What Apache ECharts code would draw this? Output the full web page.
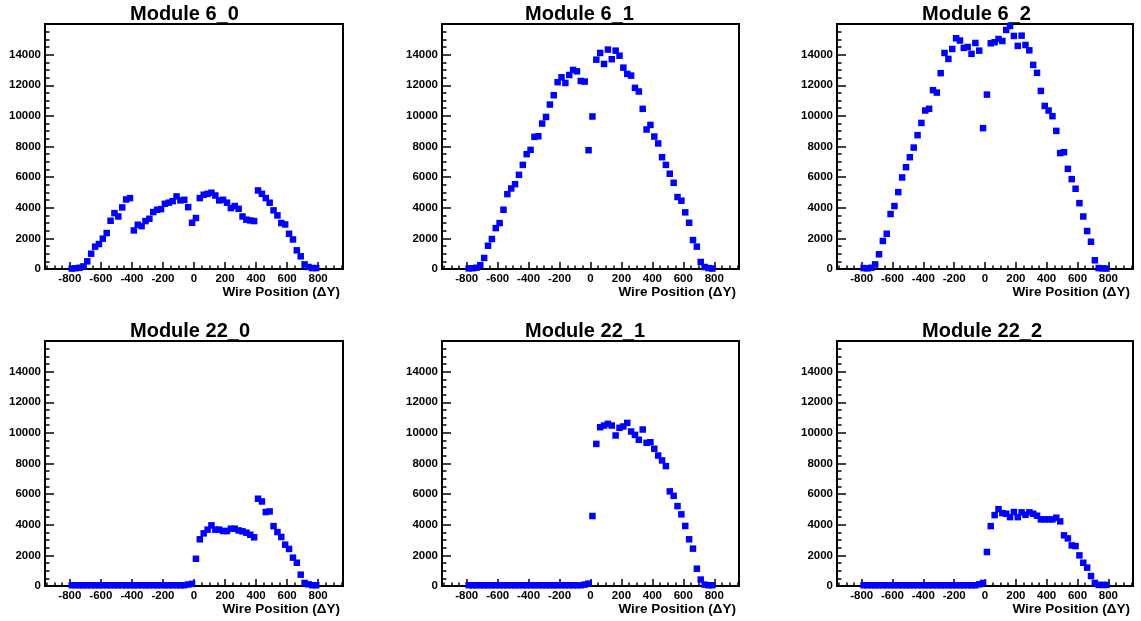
<!DOCTYPE html>
<html><head><meta charset="utf-8">
<script src="https://cdn.jsdelivr.net/npm/echarts@6/dist/echarts.min.js"></script>
<style>html,body{margin:0;padding:0;background:#fff}#c{width:1141px;height:621px}</style>
</head><body><div id="c"></div>
<script>
// Wire position bin centres (ΔY)
const wirePositions = [-787.5,-762.5,-737.5,-712.5,-687.5,-662.5,-637.5,-612.5,-587.5,-562.5,-537.5,-512.5,-487.5,-462.5,-437.5,-412.5,
  -387.5,-362.5,-337.5,-312.5,-287.5,-262.5,-237.5,-212.5,-187.5,-162.5,-137.5,-112.5,-87.5,-62.5,-37.5,-12.5,
  12.5,37.5,62.5,87.5,112.5,137.5,162.5,187.5,212.5,237.5,262.5,287.5,312.5,337.5,362.5,387.5,
  412.5,437.5,462.5,487.5,512.5,537.5,562.5,587.5,612.5,637.5,662.5,687.5,712.5,737.5,762.5,787.5];

const module6_0 = [30,50,80,170,500,1000,1460,1630,1980,2350,3150,3650,3430,4020,4540,4630,
  2520,2890,2800,3130,3280,3720,3870,3910,4260,4330,4430,4740,4480,4520,4040,3020,
  3330,4630,4850,4910,4980,4800,4480,4520,4330,3980,4110,3930,3430,3220,3170,3130,
  5130,4910,4630,4330,3830,3500,3000,2910,2300,1930,1220,830,300,130,60,60];

const module6_1 = [40,50,80,250,720,1520,1960,2670,3000,3870,4890,5260,5540,6150,6800,7500,
  7780,8630,8670,9500,9930,10740,11350,12200,12520,12150,12670,13000,12910,12280,12240,7760,
  9960,13670,14110,13390,14330,13700,14260,13930,13150,12740,12630,11830,11590,10460,9110,9410,
  8650,8200,7300,6800,6220,5630,4700,4460,3700,3020,1890,1460,460,130,60,30];

const module6_2 = [60,40,80,300,960,1830,2300,3590,4110,5020,5980,6650,7300,7930,8740,9540,
  10350,10460,11680,11520,12790,14110,13720,14370,15070,14920,14440,14500,14050,14760,14260,9200,
  11390,14740,14810,15020,14890,15610,15870,15220,14570,15240,14630,14280,13330,12810,11630,10650,
  10350,9980,9020,7570,7630,6540,5870,5240,4300,3430,2480,1780,570,60,40,30];

const module22_0 = [50,50,50,50,50,50,50,50,50,50,50,50,50,50,50,50,
  50,50,50,50,50,50,50,50,50,50,50,50,50,50,100,140,
  1780,3050,3440,3680,3960,3680,3680,3590,3590,3740,3740,3630,3570,3480,3350,3180,
  5700,5520,4830,4870,3910,3520,3200,2700,2420,1850,1520,740,200,110,50,50];

const module22_1 = [50,50,50,50,50,50,50,50,50,50,50,50,50,50,50,50,
  50,50,50,50,50,50,50,50,50,50,50,50,50,50,90,155,
  4570,9280,10370,10480,10590,10480,9830,10330,10420,10650,10090,9870,9550,10220,9350,9390,
  8960,8520,8200,7830,6180,5890,5220,4680,3920,3050,2440,1130,420,90,50,50];

const module22_2 = [50,50,50,50,50,50,50,50,50,50,50,50,50,50,50,50,
  50,50,50,50,50,50,50,50,50,50,50,50,50,50,110,200,
  2220,3910,4630,5020,4760,4720,4500,4830,4500,4810,4650,4810,4720,4590,4350,4350,
  4350,4350,4460,4220,3310,3110,2650,2610,2000,1520,1200,650,200,70,70,70];

const panelTitles = ['Module 6_0','Module 6_1','Module 6_2','Module 22_0','Module 22_1','Module 22_2'];
const panelValues = [module6_0, module6_1, module6_2, module22_0, module22_1, module22_2];
const xTickLabels = [-800,-600,-400,-200,0,200,400,600,800];
const yTickLabels = [0,2000,4000,6000,8000,10000,12000,14000];
const xAxisTitle = 'Wire Position (\u0394Y)';

const FONT = '"Liberation Sans", Arial, Helvetica, sans-serif';
const gridBoxes = [
  {left:45, top:24, width:298, height:245},
  {left:442, top:24, width:297, height:245},
  {left:837, top:24, width:296, height:245},
  {left:45, top:341, width:298, height:245},
  {left:442, top:341, width:297, height:245},
  {left:837, top:341, width:296, height:245}
];
const titlePos = [
  {left:130, top:4},{left:525, top:4},{left:922, top:4},
  {left:130, top:321},{left:525, top:321},{left:922, top:321}
];

const xMinor = [];
for (let k = -19; k <= 19; k++) { const v = k * 50; if (!xTickLabels.includes(v)) xMinor.push(v); }

const grids = [], xAxes = [], yAxes = [], series = [], titles = [];
panelTitles.forEach((t, p) => {
  grids.push(Object.assign({show:true, borderColor:'#000', borderWidth:2, backgroundColor:'#fff', containLabel:false}, gridBoxes[p]));
  titles.push({text:t, left:titlePos[p].left, top:titlePos[p].top, padding:0,
    textStyle:{fontFamily:FONT, fontWeight:'bold', fontSize:20, color:'#000'}});
  xAxes.push({type:'value', gridIndex:p, min:-960, max:960, position:'bottom',
    axisLine:{show:true, onZero:false, lineStyle:{color:'#000', width:2}},
    axisTick:{show:true, inside:true, length:7, customValues:xTickLabels, lineStyle:{color:'#000', width:1.5}},
    axisLabel:{show:true, customValues:xTickLabels, margin:4, fontFamily:FONT, fontWeight:'bold', fontSize:11.5, color:'#000'},
    splitLine:{show:false},
    name:xAxisTitle, nameLocation:'end', nameGap:-3,
    nameTextStyle:{fontFamily:FONT, fontWeight:'bold', fontSize:13.5, color:'#000', align:'right', verticalAlign:'top', padding:[16,0,0,0]}
  });
  xAxes.push({type:'value', gridIndex:p, min:-960, max:960, position:'bottom',
    axisLine:{show:false, onZero:false},
    axisTick:{show:true, inside:true, length:3.5, customValues:xMinor, lineStyle:{color:'#000', width:1.5}},
    axisLabel:{show:false}, splitLine:{show:false}
  });
  yAxes.push({type:'value', gridIndex:p, min:0, max:16000, interval:2000, position:'left',
    axisLine:{show:true, onZero:false, lineStyle:{color:'#000', width:2}},
    axisTick:{show:true, inside:true, length:9, lineStyle:{color:'#000', width:1.5}},
    minorTick:{show:true, splitNumber:4, length:4.5, lineStyle:{color:'#000', width:1.5}},
    axisLabel:{margin:4, fontFamily:FONT, fontWeight:'bold', fontSize:11.5, color:'#000',
      formatter: v => yTickLabels.includes(v) ? String(v) : ''},
    splitLine:{show:false}, minorSplitLine:{show:false}
  });
  series.push({type:'scatter', xAxisIndex:2*p, yAxisIndex:p, symbol:'rect', symbolSize:6.5,
    itemStyle:{color:'#0000ff', opacity:1}, data: wirePositions.map((x, i) => [x, panelValues[p][i]])});
});

const chart = echarts.init(document.getElementById('c'), null, {renderer:'canvas'});
chart.setOption({backgroundColor:'#fff', animation:false, title:titles, grid:grids, xAxis:xAxes, yAxis:yAxes, series:series});
</script></body></html>
